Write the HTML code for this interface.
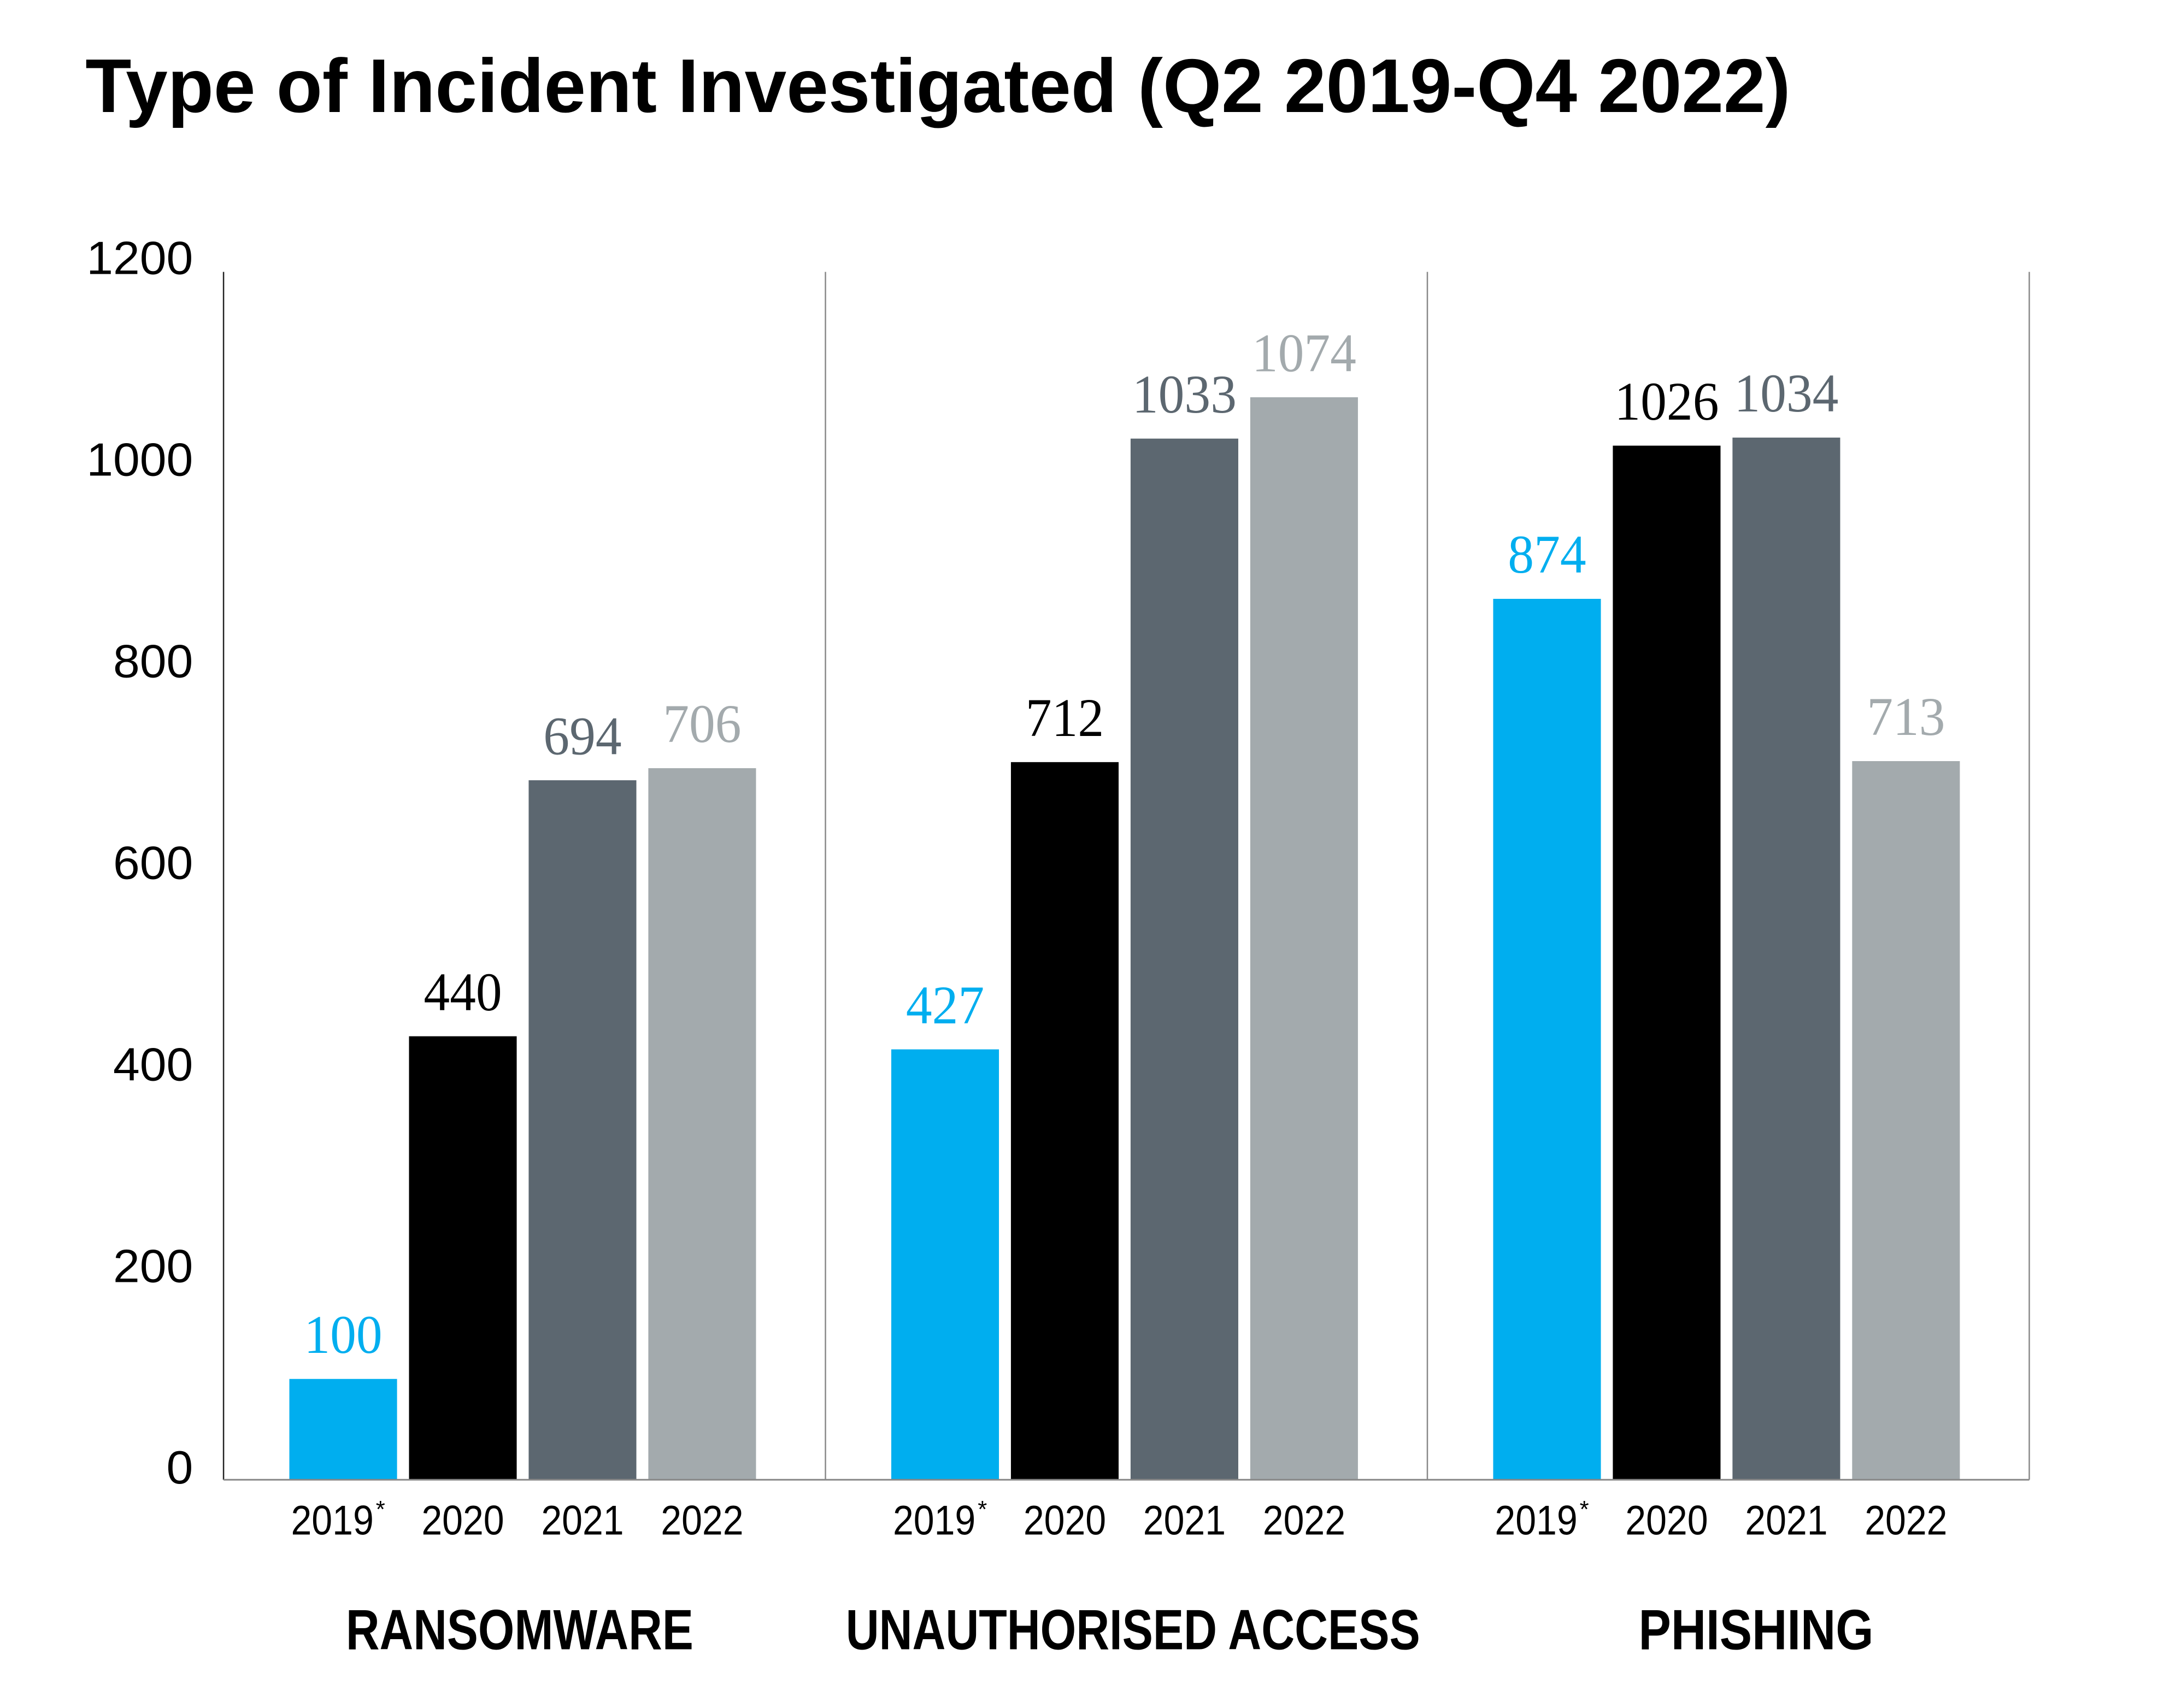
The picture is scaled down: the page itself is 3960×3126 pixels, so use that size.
<!DOCTYPE html>
<html><head><meta charset="utf-8"><style>
html,body{margin:0;padding:0;background:#fff;}
svg{display:block;}
</style></head><body>
<svg id="chart" xmlns="http://www.w3.org/2000/svg" width="3960" height="3126" viewBox="0 0 3960 3126">
<rect width="3960" height="3126" fill="#fff"/>
<g transform="scale(0.9953)">
<text x="157" y="206" font-family="Liberation Sans, sans-serif" font-weight="bold" font-size="140" textLength="3135" lengthAdjust="spacingAndGlyphs" fill="#000">Type of Incident Investigated (Q2 2019-Q4 2022)</text>
<g id="plot"></g>
</g>
</svg>
<script>
const categories = ["RANSOMWARE", "UNAUTHORISED ACCESS", "PHISHING"];
const years = ["2019", "2020", "2021", "2022"];
const values2019 = [100, 427, 874];
const values2020 = [440, 712, 1026];
const values2021 = [694, 1033, 1034];
const values2022 = [706, 1074, 713];
const yTicks = [0, 200, 400, 600, 800, 1000, 1200];
const catLabelWidths = [639, 1056, 432];

const series = [values2019, values2020, values2021, values2022];
const colors = ["#00AEEF", "#000000", "#5C6770", "#A3AAAD"];
const NS = "http://www.w3.org/2000/svg";
const g = document.getElementById("plot");
const left = 411, right = 3731, y0 = 2721, yTop = 497, yMax = 1200;
const panelW = (right - left) / categories.length;
const barW = 198, step = 220, barOff = 121;
const yScale = v => y0 - (v / yMax) * (y0 - yTop);
const xBar = (c, s) => left + c * panelW + barOff + s * step;

function mk(tag, attrs, txt) {
  const e = document.createElementNS(NS, tag);
  for (const k in attrs) e.setAttribute(k, attrs[k]);
  if (txt !== undefined) e.textContent = txt;
  g.appendChild(e);
  return e;
}

yTicks.forEach(t => {
  const s = String(t);
  const e = mk("text", {x: 355, y: yScale(t) + 7, "text-anchor": "end", "font-family": "Liberation Sans, sans-serif", "font-size": 86, fill: "#000", textLength: 49 * s.length, lengthAdjust: "spacingAndGlyphs"}, s);
  
  
});

for (let i = 0; i <= categories.length; i++) {
  const x = left + i * panelW;
  const l = mk("line", {x1: x, x2: x, y1: yTop + 3, y2: y0, stroke: i === 0 ? "#222" : "#888", "stroke-width": 2.5});
  
  
}

categories.forEach((cat, c) => {
  series.forEach((vals, s) => {
    const v = vals[c];
    const x = xBar(c, s);
    const y = yScale(v);
    const r = mk("rect", {x: x, y: y, width: barW, height: y0 - y, fill: colors[s]});
    
    
    const vs = String(v);
    const t = mk("text", {x: x + barW / 2, y: y - 48, "text-anchor": "middle", "font-family": "Liberation Serif, serif", "font-size": 100, fill: colors[s], textLength: 48 * vs.length, lengthAdjust: "spacingAndGlyphs"}, vs);
    
    
    const lx = x + barW / 2 - (s === 0 ? 20 : 0);
    const yl = mk("text", {x: lx, y: 2822, "text-anchor": "middle", "font-family": "Liberation Sans, sans-serif", "font-size": 76, fill: "#000", textLength: 152, lengthAdjust: "spacingAndGlyphs"}, years[s]);
    
    
    if (s === 0) {
      const st = mk("text", {x: lx + 80, y: 2790, "font-family": "Liberation Sans, sans-serif", "font-size": 44, fill: "#000"}, "*");
      
      
    }
  });
  const cl = mk("text", {x: left + c * panelW + panelW / 2 + [-9, 12, 51][c], y: 3033, "text-anchor": "middle", "font-family": "Liberation Sans, sans-serif", "font-weight": "bold", "font-size": 104, fill: "#000", textLength: catLabelWidths[c], lengthAdjust: "spacingAndGlyphs"}, cat);
  
  
});

const b = mk("line", {x1: left, x2: right, y1: y0, y2: y0, stroke: "#888", "stroke-width": 3});


</script>
</body></html>
